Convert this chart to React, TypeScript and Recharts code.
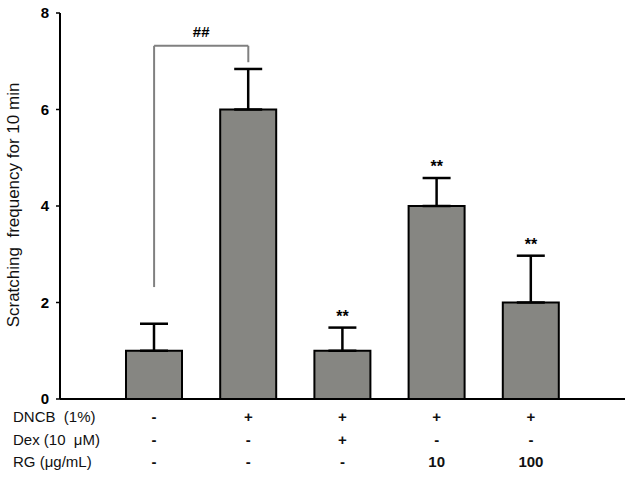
import React from 'react';
import { BarChart, Bar, XAxis, YAxis, ErrorBar, ReferenceLine, ReferenceDot, Customized } from 'recharts';

const groups = ['g1', 'g2', 'g3', 'g4', 'g5'];
const means = [1, 6, 1, 4, 2];
const errors = [0.56, 0.84, 0.48, 0.58, 0.97];
const marks = ['', '', '**', '**', '**'];
const dncbRow = ['-', '+', '+', '+', '+'];
const dexRow = ['-', '-', '+', '-', '-'];
const rgRow = ['-', '-', '-', '10', '100'];
const rowLabels = ['DNCB  (1%)', 'Dex (10  μM)', 'RG (μg/mL)'];
const yTicks = [0, 2, 4, 6, 8];

const data = groups.map((g, i) => ({
  name: g,
  mean: means[i],
  err: [0, errors[i]],
  top: means[i] + errors[i],
  mark: marks[i],
  rows: [dncbRow[i], dexRow[i], rgRow[i]],
}));

const font = '"Liberation Sans", Arial, sans-serif';

const TableTick = (props: any) => {
  const { x, index } = props;
  const d = data[index];
  if (!d) return null;
  return (
    <g>
      {d.rows.map((r: string, k: number) => (
        <text key={k} x={x} y={422 + k * 22.5} textAnchor="middle" fontFamily={font} fontSize={15} fontWeight="bold" fill="#111">
          {r}
        </text>
      ))}
    </g>
  );
};

const RowLabels = () => (
  <g>
    {rowLabels.map((l, k) => (
      <text key={l} x={13} y={422 + k * 22.5} fontFamily={font} fontSize={15} fill="#111" style={{ whiteSpace: 'pre' }}>
        {l}
      </text>
    ))}
    <text
      x={0}
      y={0}
      transform="translate(19,205) rotate(-90)"
      textAnchor="middle"
      fontFamily={font}
      fontSize={17}
      fill="#111"
      style={{ whiteSpace: 'pre' }}
    >
      Scratching  frequency for 10 min
    </text>
  </g>
);

export default function App() {
  return (
    <div style={{ position: 'absolute', left: 0, top: 0, background: '#fff' }}>
      <BarChart width={627} height={481} data={data} margin={{ top: 13, right: 2, bottom: 81, left: 0 }}>
        <XAxis
          dataKey="name"
          height={1}
          padding={{ left: 47, right: 47 }}
          axisLine={{ stroke: '#000', strokeWidth: 2 }}
          tickLine={false}
          tick={<TableTick />}
          interval={0}
        />
        <YAxis
          width={60}
          domain={[0, 8]}
          ticks={yTicks}
          tickSize={4}
          tickMargin={7}
          axisLine={{ stroke: '#000', strokeWidth: 2 }}
          tickLine={{ stroke: '#000', strokeWidth: 1.5 }}
          tick={{ fill: '#000', fontSize: 15, fontWeight: 'bold', fontFamily: font }}
        />
        <Bar dataKey="mean" fill="#868682" stroke="#000" strokeWidth={2} barSize={56} isAnimationActive={false}>
          <ErrorBar dataKey="err" width={14} stroke="#000" strokeWidth={2.5} direction="y" />
        </Bar>
        <ReferenceLine
          segment={[{ x: 'g1', y: 7.32 }, { x: 'g2', y: 7.32 }]}
          stroke="#808080"
          strokeWidth={2}
          label={{ value: '##', position: 'top', offset: 9, fill: '#000', fontSize: 15, fontWeight: 'bold', fontFamily: font }}
        />
        <ReferenceLine segment={[{ x: 'g1', y: 7.32 }, { x: 'g1', y: 2.32 }]} stroke="#808080" strokeWidth={2} />
        <ReferenceLine segment={[{ x: 'g2', y: 7.32 }, { x: 'g2', y: 6.98 }]} stroke="#808080" strokeWidth={2} />
        {data
          .filter((d) => d.mark)
          .map((d) => (
            <ReferenceDot
              key={d.name}
              x={d.name}
              y={d.top}
              r={0}
              fill="none"
              stroke="none"
              label={{ value: d.mark, position: 'top', offset: 6, fill: '#000', fontSize: 16, fontWeight: 'bold', fontFamily: font }}
            />
          ))}
        <Customized component={RowLabels} />
      </BarChart>
    </div>
  );
}
